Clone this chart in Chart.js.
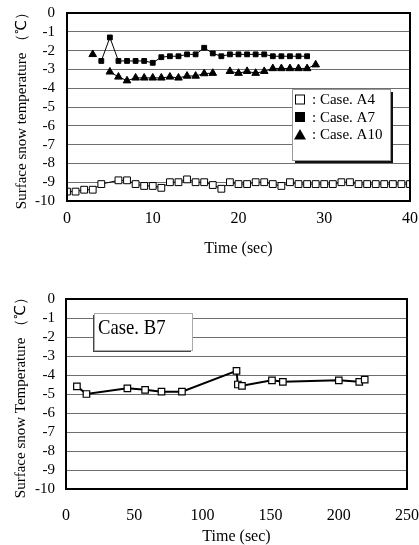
<!DOCTYPE html>
<html>
<head>
<meta charset="utf-8">
<script src="https://cdn.jsdelivr.net/npm/chart.js@4"></script>
<style>
  body { margin: 0; background: #fff; }
  .box { position: absolute; left: 0; width: 419px; }
  #topBox { top: 0; height: 260px; }
  #bottomBox { top: 270px; height: 275px; }
</style>
</head>
<body>
<div class="box" id="topBox"><canvas id="chartA" width="419" height="260"></canvas></div>
<div class="box" id="bottomBox"><canvas id="chartB" width="419" height="275"></canvas></div>
<script>
/*******************************************
 * DATA
 *******************************************/

// Case A4, open squares
const timeA4 = [0, 1, 2, 3, 4, 6, 7, 8, 9, 10, 11, 12, 13, 14, 15, 16, 17, 18, 19, 20,
  21, 22, 23, 24, 25, 26, 27, 28, 29, 30, 31, 32, 33, 34, 35, 36, 37, 38, 39, 40];
const tempA4 = [-9.5, -9.5, -9.4, -9.4, -9.1, -8.9, -8.9, -9.1, -9.2, -9.2, -9.3, -9.0, -9.0, -8.85, -9.0, -9.0, -9.15, -9.35, -9.0, -9.1,
  -9.1, -9.0, -9.0, -9.1, -9.2, -9.0, -9.1, -9.1, -9.1, -9.1, -9.1, -9.0, -9.0, -9.1, -9.1, -9.1, -9.1, -9.1, -9.1, -9.1];

// Case A7, filled squares
const timeA7 = [4, 5, 6, 7, 8, 9, 10, 11, 12, 13, 14, 15, 16, 17, 18, 19, 20, 21, 22, 23, 24, 25, 26, 27, 28];
const tempA7 = [-2.55, -1.3, -2.55, -2.55, -2.55, -2.55, -2.65, -2.35, -2.3, -2.3, -2.2, -2.2, -1.85, -2.15, -2.3,
  -2.2, -2.2, -2.2, -2.2, -2.2, -2.3, -2.3, -2.3, -2.3, -2.3];

// Case A10, filled triangles (null = missing reading)
const timeA10 = [3, 4, 5, 6, 7, 8, 9, 10, 11, 12, 13, 14, 15, 16, 17, 18, 19, 20, 21, 22, 23, 24, 25, 26, 27, 28, 29];
const tempA10 = [-2.2, null, -3.13, -3.4, -3.6, -3.45, -3.45, -3.45, -3.45, -3.4, -3.45, -3.35, -3.35, -3.22, -3.2, null,
  -3.1, -3.2, -3.1, -3.2, -3.1, -2.95, -2.95, -2.95, -2.95, -2.95, -2.75];

// Case B7
const timeB7 = [8, 15, 45, 58, 70, 85, 125, 126, 129, 151, 159, 200, 215, 219];
const tempB7 = [-4.6, -5.0, -4.7, -4.78, -4.88, -4.88, -3.78, -4.5, -4.57, -4.28, -4.36, -4.28, -4.36, -4.24];

const legendLabels = [": Case. A4", ": Case. A7", ": Case. A10"];
const legendMarks = ["openSquare", "square", "triangle"];
const caseLabel = "Case. B7";

const tempTitleA = "Surface snow temperature \uFF08\u2103\uFF09";
const tempTitleB = "Surface snow Temperature \uFF08\u2103\uFF09";
const timeTitle = "Time (sec)";

/*******************************************
 * HELPERS
 *******************************************/

const SERIF = "'Liberation Serif', 'Times New Roman', serif";

function toPoints(times, temps) {
  return times.map((t, i) => ({ x: t, y: temps[i] }));
}

// thick black frame round the plot area
const framePlugin = {
  id: "frame",
  afterDraw(chart) {
    const { ctx, chartArea: a } = chart;
    ctx.save();
    ctx.strokeStyle = "#000";
    ctx.lineWidth = 2;
    ctx.strokeRect(a.left, a.top, a.right - a.left, a.bottom - a.top);
    ctx.restore();
  },
};

function drawMark(ctx, kind, cx, cy) {
  ctx.fillStyle = "#000";
  ctx.strokeStyle = "#000";
  ctx.lineWidth = 1;
  if (kind === "openSquare") {
    ctx.strokeRect(cx - 4.5, cy - 4.5, 9, 9);
  } else if (kind === "square") {
    ctx.fillRect(cx - 5, cy - 5, 10, 10);
  } else {
    ctx.beginPath();
    ctx.moveTo(cx, cy - 5.5);
    ctx.lineTo(cx + 6, cy + 5);
    ctx.lineTo(cx - 6, cy + 5);
    ctx.closePath();
    ctx.fill();
  }
}

// legend box with shadow, inside the top plot
const legendPlugin = {
  id: "boxLegend",
  afterDraw(chart) {
    const { ctx, chartArea: a } = chart;
    const x = a.left + 225, y = a.top + 76, w = 98, h = 71;
    ctx.save();
    ctx.fillStyle = "#111";
    ctx.fillRect(x + 3, y + 3, w, h);
    ctx.fillStyle = "#fff";
    ctx.fillRect(x, y, w, h);
    ctx.strokeStyle = "#999";
    ctx.lineWidth = 1;
    ctx.strokeRect(x + 0.5, y + 0.5, w, h);
    ctx.font = "15px " + SERIF;
    ctx.textBaseline = "middle";
    legendLabels.forEach((label, i) => {
      const ly = y + 10.5 + i * 17.5;
      drawMark(ctx, legendMarks[i], x + 8, ly);
      ctx.fillStyle = "#000";
      ctx.fillText(label, x + 20, ly + 1);
    });
    ctx.restore();
  },
};

// "Case. B7" label box in the lower plot
const caseBoxPlugin = {
  id: "caseBox",
  afterDraw(chart) {
    const { ctx, chartArea: a } = chart;
    const x = a.left + 28, y = a.top + 14, w = 98, h = 37;
    ctx.save();
    ctx.fillStyle = "#444";
    ctx.fillRect(x - 1, y + 2, w, h);
    ctx.fillStyle = "#fff";
    ctx.fillRect(x, y, w, h);
    ctx.strokeStyle = "#aaa";
    ctx.lineWidth = 1;
    ctx.strokeRect(x + 0.5, y + 0.5, w, h);
    ctx.fillStyle = "#000";
    ctx.font = "22px " + SERIF;
    ctx.textBaseline = "middle";
    ctx.translate(x + 4, y + 15);
    ctx.scale(0.85, 1);
    ctx.fillText(caseLabel, 0, 0);
    ctx.restore();
  },
};

function makeOptions(cfg) {
  return {
    responsive: false,
    devicePixelRatio: 1,
    animation: false,
    layout: { padding: { top: cfg.padTop, right: cfg.padRight, left: 0, bottom: 0 } },
    plugins: { legend: { display: false }, tooltip: { enabled: false } },
    scales: {
      x: {
        type: "linear",
        min: 0,
        max: cfg.xMax,
        grid: { display: false, drawTicks: false },
        border: { display: false },
        ticks: {
          stepSize: cfg.xStep,
          autoSkip: false,
          color: "#000",
          padding: cfg.xTickPad,
          font: { family: SERIF, size: 16 },
          maxRotation: 0,
        },
        title: {
          display: true,
          text: timeTitle,
          color: "#000",
          font: { family: SERIF, size: 16 },
          padding: { top: 0, bottom: cfg.xTitlePad },
        },
        afterFit(scale) {
          scale.height = cfg.xHeight;
          scale.paddingLeft = 0;
          scale.paddingRight = 0;
        },
      },
      y: {
        min: -10,
        max: 0,
        grid: { color: "#6e6e6e", lineWidth: 1, drawTicks: false },
        border: { display: false },
        ticks: {
          stepSize: 1,
          autoSkip: false,
          color: "#000",
          padding: cfg.yTickPad,
          font: { family: SERIF, size: 15 },
        },
        title: {
          display: true,
          text: cfg.yTitle,
          color: "#000",
          font: { family: SERIF, size: 15 },
          padding: { top: cfg.yTitlePad, bottom: 0 },
        },
        afterFit(scale) {
          scale.width = cfg.yWidth;
          scale.paddingTop = 0;
          scale.paddingBottom = 0;
        },
      },
    },
  };
}

/*******************************************
 * TOP CHART: cases A4, A7, A10
 *******************************************/

new Chart(document.getElementById("chartA"), {
  type: "line",
  data: {
    datasets: [
      {
        label: "Case. A4",
        data: toPoints(timeA4, tempA4),
        borderColor: "#000",
        borderWidth: 1,
        pointStyle: "rect",
        pointRadius: 4.8,
        pointBackgroundColor: "#fff",
        pointBorderColor: "#000",
        pointBorderWidth: 1,
      },
      {
        label: "Case. A7",
        data: toPoints(timeA7, tempA7),
        borderColor: "#000",
        borderWidth: 1,
        pointStyle: "rect",
        pointRadius: 3.4,
        pointBackgroundColor: "#000",
        pointBorderColor: "#000",
      },
      {
        label: "Case. A10",
        data: toPoints(timeA10, tempA10),
        borderColor: "#000",
        borderWidth: 1,
        spanGaps: false,
        pointStyle: "triangle",
        pointRadius: 4.4,
        pointBackgroundColor: "#000",
        pointBorderColor: "#000",
      },
    ],
  },
  options: makeOptions({
    padTop: 13, padRight: 9, xMax: 40, xStep: 10, xTickPad: 8, xTitlePad: 1.5,
    xHeight: 59, yWidth: 67, yTickPad: 12, yTitlePad: 13, yTitle: tempTitleA,
  }),
  plugins: [framePlugin, legendPlugin],
});

/*******************************************
 * BOTTOM CHART: case B7
 *******************************************/

new Chart(document.getElementById("chartB"), {
  type: "line",
  data: {
    datasets: [
      {
        label: "Case. B7",
        data: toPoints(timeB7, tempB7),
        borderColor: "#000",
        borderWidth: 2,
        pointStyle: "rect",
        pointRadius: 4.6,
        pointBackgroundColor: "#fff",
        pointBorderColor: "#000",
        pointBorderWidth: 1.2,
      },
    ],
  },
  options: makeOptions({
    padTop: 29, padRight: 12, xMax: 250, xStep: 50, xTickPad: 17, xTitlePad: -1.5,
    xHeight: 56, yWidth: 66, yTickPad: 11, yTitlePad: 12, yTitle: tempTitleB,
  }),
  plugins: [framePlugin, caseBoxPlugin],
});
</script>
</body>
</html>
